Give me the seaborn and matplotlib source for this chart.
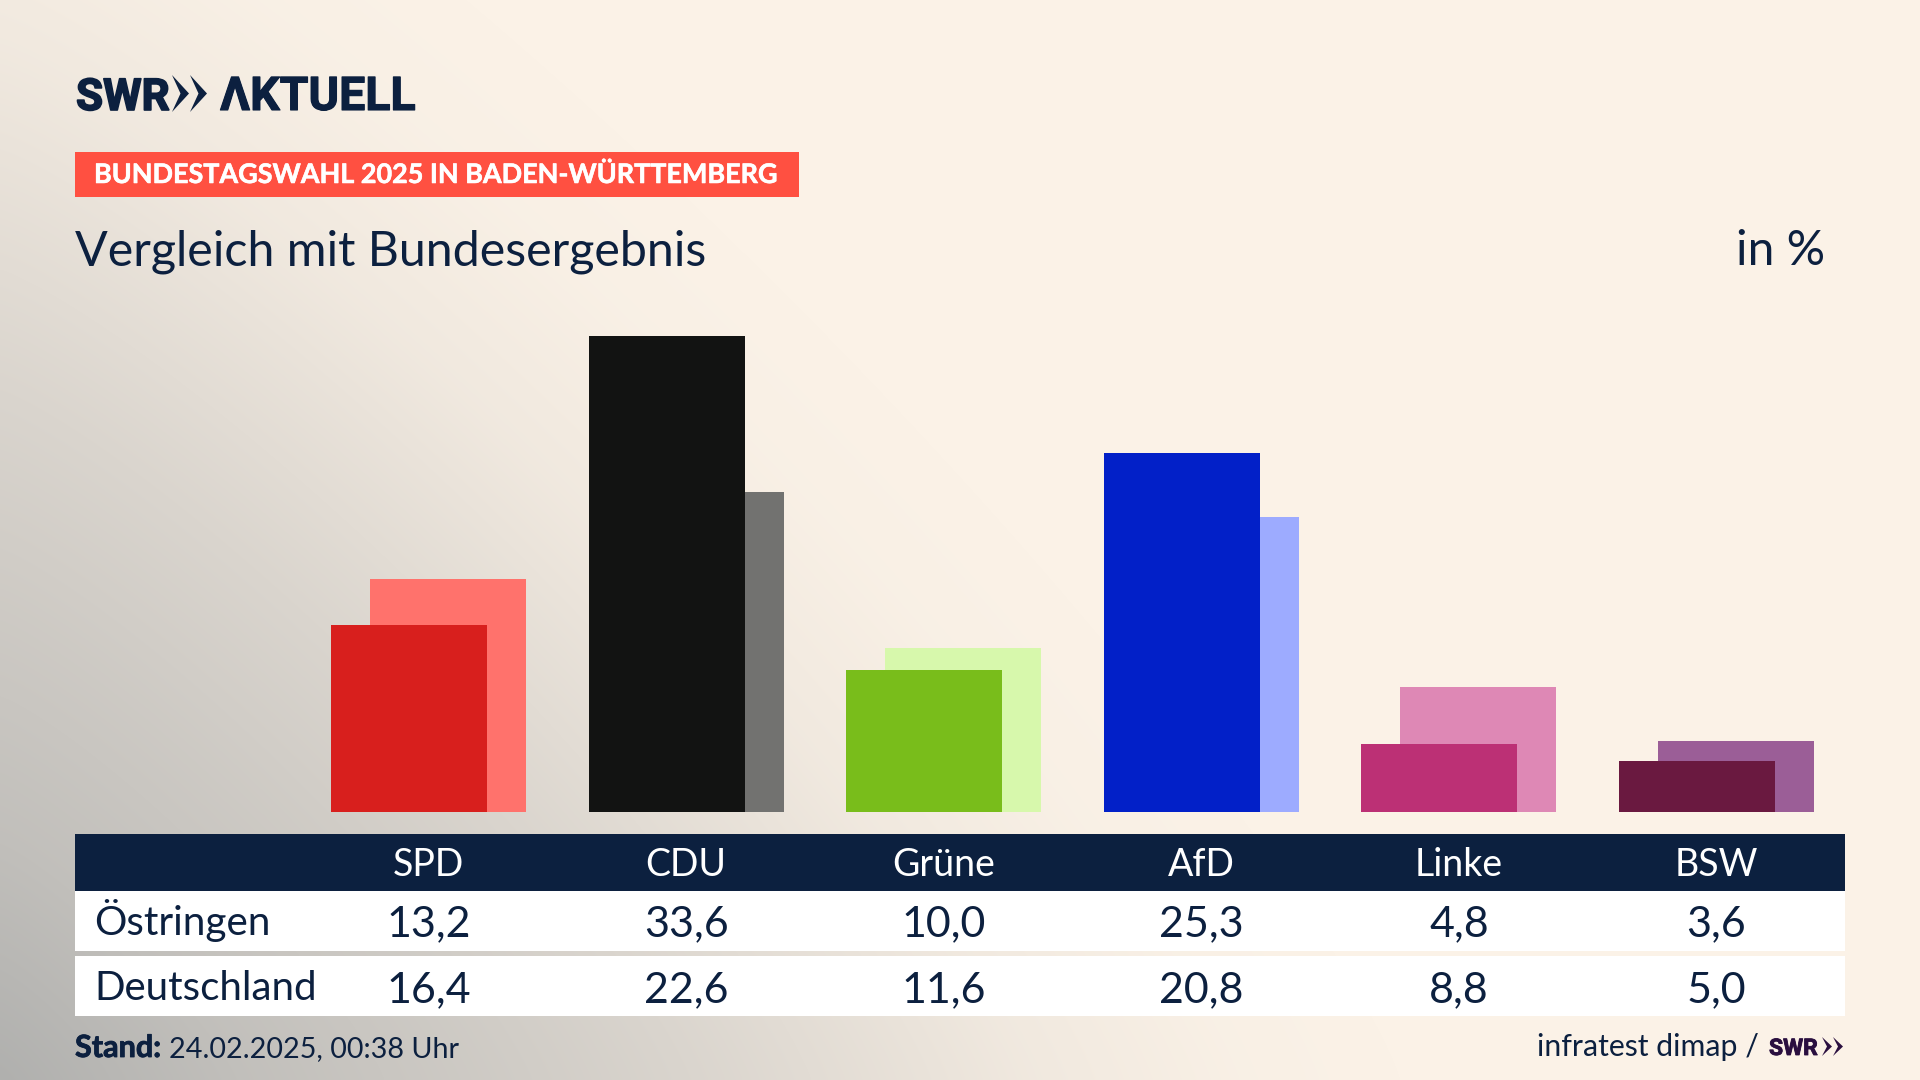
import numpy as np
import pandas as pd
import matplotlib
matplotlib.use("Agg")
import matplotlib.pyplot as plt
import matplotlib.patheffects as pe
from matplotlib.patches import Polygon, Rectangle
from matplotlib.colors import to_rgb
import seaborn as sns

# Werte aus der Grafik
parties = ["SPD", "CDU", "Grüne", "AfD", "Linke", "BSW"]
oestringen = [13.2, 33.6, 10.0, 25.3, 4.8, 3.6]
deutschland = [16.4, 22.6, 11.6, 20.8, 8.8, 5.0]
colors_front = ["#D81F1D", "#121312", "#79BD1B", "#0220C8", "#BC3075", "#6A1940"]
colors_back = ["#FF726C", "#727270", "#D7F8AC", "#9DABFF", "#DE88B5", "#9B5E97"]

row_names = ["Östringen", "Deutschland"]

NAVY = "#0C203F"
CREAM = "#FBF2E7"
W, H = 1920, 1080
FONT = ["Lato", "DejaVu Sans"]
LOGO = ["Roboto", "Lato", "DejaVu Sans"]

sns.set_theme(style="white")
plt.rcParams["font.family"] = FONT

fig = plt.figure(figsize=(W / 100, H / 100), dpi=100)


def px_axes(left, top, right, bottom):
    return fig.add_axes([left / W, 1 - bottom / H, (right - left) / W, (bottom - top) / H])


# Hintergrund: grauer Verlauf von unten links
page = px_axes(0, 0, W, H)
yy, xx = np.mgrid[0:H, 0:W]
d = (xx ** 1.2 + (H - yy) ** 1.2) ** (1 / 1.2)
alpha = np.interp(d, [0, 250, 480, 690, 860, 1030, 1240, 1400], [1, .76, .6, .44, .29, .14, .03, 0])
cream = np.array(to_rgb(CREAM))
gray = np.array(to_rgb("#B0B0AE"))
page.imshow(cream + alpha[..., None] * (gray - cream), extent=(0, W, H, 0), aspect="auto")
page.set_xlim(0, W)
page.set_ylim(H, 0)
page.axis("off")


def chevrons(x0, top, bottom, w, gap, color):
    mid = (top + bottom) / 2
    for k in range(2):
        x = x0 + k * gap
        page.add_patch(Polygon([(x, top), (x + w, mid), (x, bottom), (x + w * 0.5, mid)],
                               closed=True, fc=color, ec="none"))


def heavy(lw, color):
    return [pe.withStroke(linewidth=lw, foreground=color)]


# Logo
page.text(76, 110, "SWR", fontsize=31.7, fontweight="bold", family=LOGO, color=NAVY, va="baseline",
          path_effects=heavy(1.2, NAVY))
chevrons(172, 75, 112, 17, 18, NAVY)
page.text(220, 110, "ΛKTUELL", fontsize=33.5, fontweight="bold", family=LOGO, color=NAVY, va="baseline",
          path_effects=heavy(0.8, NAVY))

# Kopfzeilen
page.add_patch(Rectangle((75, 152), 724, 45, fc="#FF5041", ec="none"))
page.text(94, 183, "BUNDESTAGSWAHL 2025 IN BADEN-WÜRTTEMBERG", fontsize=19.4, fontweight="bold",
          color="white", va="baseline", path_effects=heavy(0.4, "white"))
page.text(75, 265, "Vergleich mit Bundesergebnis", fontsize=34.8, color=NAVY, va="baseline")
page.text(1825, 265, "in %", fontsize=34.6, color=NAVY, va="baseline", ha="right")

# Balken
period = 257.6
center0 = 428.5
px_per_unit = 14.18
bar_left, bar_right = 75, 1845
xlim = ((bar_left - center0) / period, (bar_right - center0) / period)
bar_w = 156 / period
shift = 19.5 / period

ax = px_axes(bar_left, 300, bar_right, 812)
pos = np.arange(len(parties))
sns.barplot(x=pos + shift, y=deutschland, hue=parties, palette=colors_back, native_scale=True,
            width=bar_w, dodge=False, legend=False, saturation=1, errorbar=None, linewidth=0, ax=ax)
sns.barplot(x=pos - shift, y=oestringen, hue=parties, palette=colors_front, native_scale=True,
            width=bar_w, dodge=False, legend=False, saturation=1, errorbar=None, linewidth=0, ax=ax)
ax.set_xlim(xlim)
ax.set_ylim(0, (812 - 300) / px_per_unit)
ax.axis("off")

# Tabelle unter den Balken, gleiche x-Achse wie die Balken
tab = px_axes(bar_left, 834, bar_right, 1016)
tab.set_xlim(xlim)
tab.set_ylim(1016, 834)
tab.axis("off")
tab.axhspan(834, 891, color=NAVY, lw=0)
tab.axhspan(891, 951, color="white", lw=0)
tab.axhspan(956, 1016, color="white", lw=0)


def fmt(v):
    return f"{v:.1f}".replace(".", ",")


label_x = xlim[0] + 19 / period
for i, party in enumerate(parties):
    tab.text(i, 876, party, fontsize=27, color="white", ha="center", va="baseline")
    tab.text(i, 936, fmt(oestringen[i]), fontsize=31, color=NAVY, ha="center", va="baseline")
    tab.text(i, 1002, fmt(deutschland[i]), fontsize=31, color=NAVY, ha="center", va="baseline")
tab.text(label_x, 935, row_names[0], fontsize=29.2, color=NAVY, va="baseline")
tab.text(label_x, 1000, row_names[1], fontsize=29, color=NAVY, va="baseline")

# Fusszeile
page.text(75, 1057, "Stand:", fontsize=22, fontweight="bold", color=NAVY, va="baseline",
          path_effects=heavy(0.6, NAVY))
page.text(169, 1057, "24.02.2025, 00:38 Uhr", fontsize=20.7, color=NAVY, va="baseline")
page.text(1759, 1056, "infratest dimap /", fontsize=21.8, color=NAVY, va="baseline", ha="right")
page.text(1769, 1055, "SWR", fontsize=16.5, fontweight="bold", family=LOGO, color="#2A0F3F", va="baseline",
          path_effects=heavy(0.6, "#2A0F3F"))
chevrons(1822, 1037, 1056, 10, 11, "#2A0F3F")

fig.savefig("out.png", dpi=100)
